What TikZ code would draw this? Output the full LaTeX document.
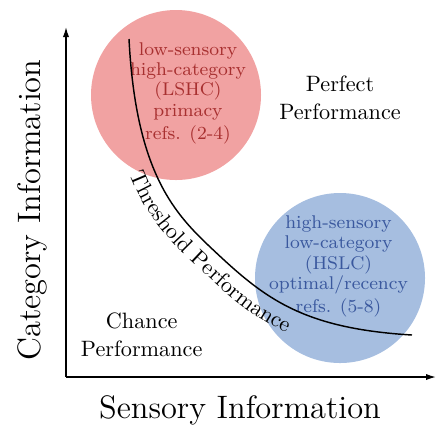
\documentclass[tikz,border=0pt]{standalone}
\usetikzlibrary{arrows.meta,decorations.text}
\definecolor{lshcfill}{RGB}{241,162,162}
\definecolor{lshctext}{RGB}{168,48,48}
\definecolor{hslcfill}{RGB}{166,190,224}
\definecolor{hslctext}{RGB}{58,88,158}
\begin{document}
\begin{tikzpicture}[x=0.45pt,y=-0.45pt,
  zone/.style={circle, inner sep=0pt, minimum size=76.5pt},
  zonetext/.style={align=center, font=\fontsize{8.3}{9.2}\selectfont, inner sep=0pt},
  regionlabel/.style={align=center, font=\fontsize{10}{12.8}\selectfont, inner sep=0pt},
  axislabel/.style={font=\fontsize{14.6}{17}\selectfont, inner sep=0pt},
  axisline/.style={line width=0.6pt, -{Latex[length=4.5pt,width=2.8pt]}},
  boundary/.style={line width=0.65pt},
]
\useasboundingbox (0,0) rectangle (437,424);

% the two regimes
\node[zone, fill=lshcfill] (lshc) at (176,95) {};
\node[zone, fill=hslcfill] (hslc) at (340,278) {};

\node[zonetext, text=lshctext] (lshclabel) at (188,93)
  {low-sensory\\high-category\\(LSHC)\\primacy\\[1pt]refs. (2-4)};
\node[zonetext, text=hslctext] (hslclabel) at (338.5,266)
  {high-sensory\\low-category\\(HSLC)\\optimal/recency\\[1pt]refs. (5-8)};

% axes
\coordinate (origin) at (66,377);
\coordinate (ytip) at (66,27);
\coordinate (xtip) at (436,377);
\draw[axisline] (origin) -- (ytip);
\draw[axisline] (origin) -- (xtip);

\node[axislabel, anchor=base] (xlabel) at (240,418) {Sensory Information};
\node[axislabel, anchor=base, rotate=90] (ylabel) at (40,210) {Category Information};

% region labels
\node[regionlabel] (perfect) at (340,98) {Perfect\\Performance};
\node[regionlabel] (chance) at (141.7,335) {Chance\\Performance};

% threshold curve: two cubic pieces meeting at the knee
\coordinate (cstart) at (129,39);
\coordinate (cknee) at (213.3,250);
\coordinate (cend) at (412,335);
\draw[boundary] (cstart) .. controls (136,175) and (176,215) .. (cknee)
                         .. controls (264.3,298) and (302,328.4) .. (cend);

% its label, set on a parallel path below the curve
\coordinate (lstart) at (106,40.2);
\coordinate (lknee) at (197.6,266.8);
\coordinate (lend) at (410.6,358);
\path[decorate, decoration={text along path, text align={left indent=61.5pt},
  text={Threshold Performance}}]
  (lstart) .. controls (113.7,189.8) and (156.6,228.3) .. (lknee)
           .. controls (253.7,319.6) and (289.6,350.7) .. (lend);
\end{tikzpicture}
\end{document}
